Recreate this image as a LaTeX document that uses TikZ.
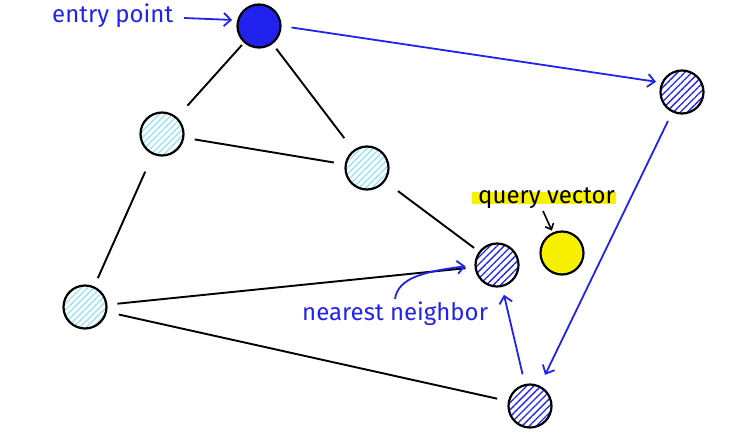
\documentclass[tikz,border=0pt]{standalone}
\usepackage{fontspec}
\setmainfont{Fira Sans}
\usetikzlibrary{arrows.meta,patterns.meta}
\definecolor{xblue}{HTML}{2222EE}
\definecolor{xcyan}{HTML}{9CE3F5}
\definecolor{xyellow}{HTML}{F7F000}
\tikzset{
  vtx/.style={circle, draw=black, line width=2.2pt, minimum size=43pt, inner sep=0pt},
  hblue/.style={vtx, pattern={Lines[angle=45,distance=5pt,line width=1.3pt]}, pattern color=xblue},
  hcyan/.style={vtx, pattern={Lines[angle=45,distance=4.5pt,line width=1.4pt]}, pattern color=xcyan},
  edge/.style={draw=black, line width=1.9pt},
  barrow/.style={draw=xblue, line width=1.8pt, -{Straight Barb[length=7pt,width=13pt,line width=1.8pt]}},
  lbl/.style={inner sep=0pt, anchor=base west, font=\fontsize{24}{24}\selectfont}
}
\begin{document}
\begin{tikzpicture}[x=1pt,y=-1pt]
\useasboundingbox (0,0) rectangle (743,439);
% nodes
\node[vtx, fill=xblue] (A) at (259,26) {};
\node[hblue] (B) at (682,92) {};
\node[hcyan] (C) at (162,134) {};
\node[hcyan] (D) at (367,168) {};
\node[hblue] (E) at (497,265) {};
\node[vtx, fill=xyellow] (Q) at (562,253) {};
\node[hcyan] (F) at (85,307) {};
\node[hblue] (G) at (530,406) {};
% black edges
\draw[edge, shorten <=3pt, shorten >=16pt] (A) -- (C);
\draw[edge, shorten <=6pt, shorten >=15pt] (A) -- (D);
\draw[edge, shorten <=11pt, shorten >=11pt] (C) -- (D);
\draw[edge, shorten <=19pt, shorten >=9pt] (C) -- (F);
\draw[edge, shorten <=16pt, shorten >=6pt] (D) -- (E);
\draw[edge, shorten <=10pt, shorten >=9pt] (F) -- (E);
\draw[edge, shorten <=12pt, shorten >=11pt] (F) -- (G);
% blue path arrows
\draw[barrow, shorten <=10pt, shorten >=6pt] (A.east) -- (B.155);
\draw[barrow, shorten <=10pt, shorten >=12pt] (B) -- (G);
\draw[barrow, shorten <=10pt, shorten >=8pt] (G) -- (E);
% labels
\node[lbl, text=xblue] (ep) at (52,22) {entry point};
\coordinate (ep1) at (184,18);
\draw[barrow, shorten >=5pt] (ep1) -- (A.165);
\node[lbl, text=xblue] (nn) at (302,320) {nearest neighbor};
\coordinate (nn1) at (395,299);
\draw[barrow, shorten >=9pt] (nn1) .. controls (398,276) and (430,271) .. (E.west);
\fill[xyellow] (472,192) rectangle (616,204);
\node[lbl, text=black] (qv) at (478,203) {query vector};
\coordinate (qv1) at (543,211);
\draw[draw=black, line width=1.6pt, -{Straight Barb[length=5pt,width=9pt,line width=1.6pt]}, shorten >=2pt] (qv1) -- (Q);
\end{tikzpicture}
\end{document}
